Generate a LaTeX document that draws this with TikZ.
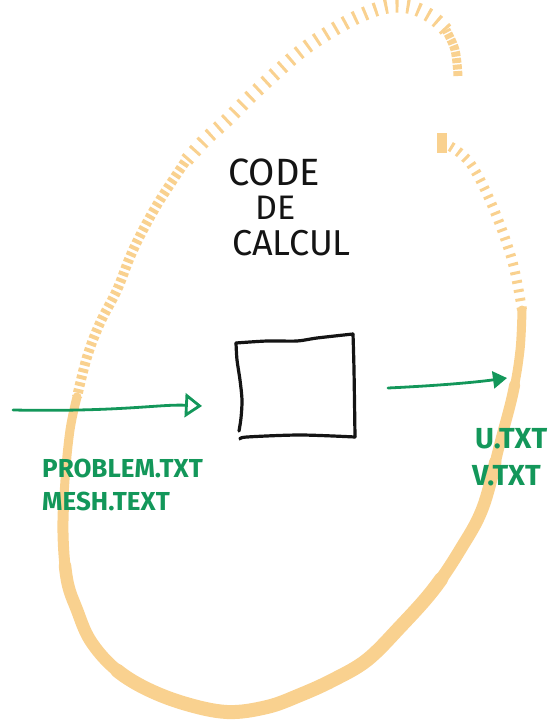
\documentclass[tikz,border=0pt]{standalone}
\usepackage{fontspec}
\setmainfont{Fira Sans}
\usetikzlibrary{arrows.meta}
\definecolor{marker}{HTML}{F9D18F}
\definecolor{ink}{HTML}{13975A}
\definecolor{pen}{HTML}{141414}
\begin{document}
\begin{tikzpicture}[x=1pt,y=-1pt,
  band/.style={draw=marker, line cap=round, line join=round},
  hatch/.style={draw=marker, line cap=butt, dash pattern=#1},
  part/.style 2 args={band, dash pattern=on #2 off 3000pt, dash phase=3000pt+#2-#1},
  boxline/.style={draw=pen, line width=3.2pt, line cap=round, line join=round},
  flow/.style={draw=ink, line width=2.8pt, line cap=round},
  title/.style={anchor=base west, inner sep=0pt, text=pen, font=\fontsize{36}{40}\selectfont},
  file/.style={anchor=base west, inner sep=0pt, text=ink, font=\bfseries\fontsize{26}{30}\selectfont}]
\useasboundingbox (0,0) rectangle (558,725);

% highlighter loop around the solver: light hatched strokes on top, heavy at the bottom
\draw[hatch={on 5pt off 1.5pt}, line width=9pt]
  plot[smooth, tension=0.6] coordinates {(458,76) (455,50) (446,30)};
\draw[hatch={on 3pt off 8pt}, line width=14pt]
  plot[smooth, tension=0.6] coordinates {(446,30) (432,17) (410,7) (385,7) (355,18) (323,36) (300,52) (277,72) (250,97) (227,120) (205,140) (185,162)};
\draw[hatch={on 4pt off 3pt}, line width=10pt]
  plot[smooth, tension=0.6] coordinates {(185,162) (160,200) (143,230) (130,257) (117,290) (100,323) (87,357) (77,397)};
% the solid lower part, thickened in layers towards the bottom
\def\lowerloop{plot[smooth, tension=0.6] coordinates {(77,397) (70,430) (65,480) (63,533) (67,580) (77,610) (90,640) (113,667) (143,687) (183,703) (227,712) (267,707) (300,695) (333,680) (367,660) (400,627) (433,590) (460,550) (483,507) (500,443) (513,393) (520,350) (522,310)}}
\draw[band, line width=9pt] \lowerloop;
\draw[part={110pt}{770pt}, line width=11pt] \lowerloop;
\draw[part={170pt}{630pt}, line width=12.5pt] \lowerloop;
\draw[part={290pt}{380pt}, line width=14pt] \lowerloop;
\draw[hatch={on 3pt off 6pt}, line width=10pt]
  plot[smooth, tension=0.6] coordinates {(522,310) (512,260) (492,205) (470,163) (448,145)};
\fill[marker] (437,133) rectangle (447,153);

% the solver box
\node[minimum width=118pt, minimum height=100pt, inner sep=0pt] (solver) at (295,388) {};
\draw[boxline] plot[smooth] coordinates {(236,343) (267,341) (297,341) (317,338) (353,334)};
\draw[boxline] plot[smooth] coordinates {(353,334) (354,370) (355,437)};
\draw[boxline] plot[smooth] coordinates {(240,439) (247,437) (300,435) (355,437)};
\draw[boxline] plot[smooth] coordinates {(236,343) (237,360) (240,380) (242,400) (241,418) (239,431)};

% title
\node[title, font=\fontsize{38}{40}\selectfont] (t1) at (228,185) {CODE};
\node[title, font=\fontsize{34}{40}\selectfont] (t2) at (255,219) {DE};
\node[title] (t3) at (232,255) {CALCUL};

% input and output flows
\coordinate (inStart) at (13,410);
\coordinate (inEnd) at (202,406);
\coordinate (outStart) at (388,388);
\coordinate (outEnd) at (507,378);
\draw[flow, -{Triangle[open, length=17pt, width=24pt]}]
  (inStart) .. controls (120,412) and (160,404) .. (inEnd);
\draw[flow, -{Triangle[length=14pt, width=17pt]}]
  (outStart) .. controls (430,386) and (470,383) .. (outEnd);

\node[file] (fin1) at (42,477) {PROBLEM.TXT};
\node[file] (fin2) at (42,510) {MESH.TEXT};
\node[file, font=\bfseries\fontsize{29}{32}\selectfont] (fout1) at (475,448) {U.TXT};
\node[file, font=\bfseries\fontsize{29}{32}\selectfont] (fout2) at (472,485) {V.TXT};
\end{tikzpicture}
\end{document}
